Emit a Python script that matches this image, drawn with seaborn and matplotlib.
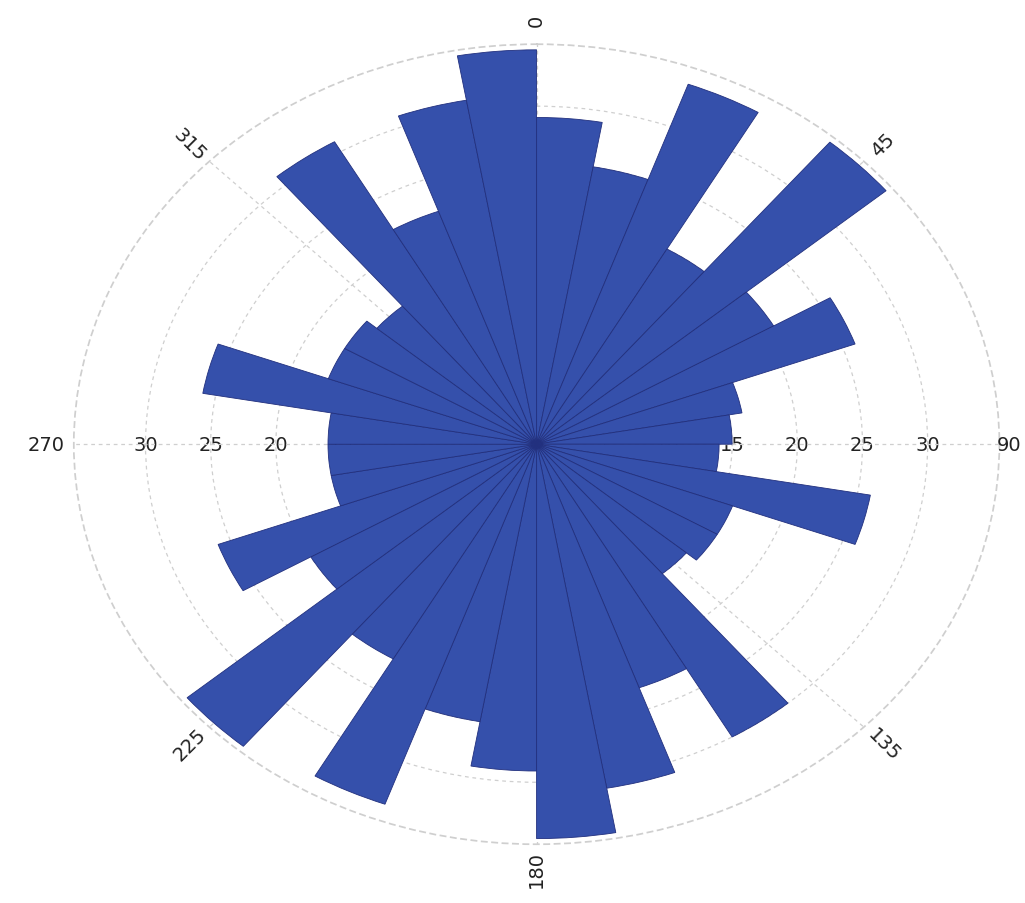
import numpy as np
import pandas as pd
import matplotlib
matplotlib.use("Agg")
import matplotlib.pyplot as plt
import seaborn as sns

sns.set_theme(style="white")

# rose diagram: 10 degree bins, counts
bin_start = list(range(0, 360, 10))
counts = [29, 25, 34, 20, 35, 21, 26, 16, 15, 14,
          26, 16, 16, 15, 30, 23, 31, 35, 29, 25,
          34, 22, 35, 20, 26, 16, 16, 16, 26, 17,
          17, 16, 31, 22, 31, 35]
r_ticks = [5, 10, 15, 20, 25, 30]
r_max = 35.5
theta_ticks = [0, 45, 90, 135, 180, 225, 270, 315]

df = pd.DataFrame({"theta": np.deg2rad(np.array(bin_start) + 5), "count": counts})

fig = plt.figure(figsize=(10.25, 9.04), dpi=100)
ax = fig.add_axes([0.072, 0.065, 0.903, 0.885], projection="polar")
ax.set_theta_zero_location("N")
ax.set_theta_direction(-1)

sns.barplot(data=df, x="theta", y="count", native_scale=True, width=1.0,
            color="#3550ab", saturation=1, edgecolor="#22307e", linewidth=0.6,
            errorbar=None, ax=ax)

ax.set_aspect("auto")
ax.set_xlim(0, 2 * np.pi)
ax.set_ylim(0, r_max)
ax.set_xlabel("")
ax.set_ylabel("")
ax.set_axisbelow(True)

ax.set_xticks(np.deg2rad(theta_ticks))
ax.set_xticklabels([])
ax.set_yticks(r_ticks)
ax.set_yticklabels([])
ax.grid(True, color="#cfcfcf", linestyle=(0, (3, 3)), linewidth=0.9)
ax.spines["polar"].set_edgecolor("#cfcfcf")
ax.spines["polar"].set_linestyle((0, (3, 3)))

# angle labels, turned along the radius
for t in theta_ticks:
    math_ang = (90 - t) % 360
    rot = math_ang if math_ang <= 90 else math_ang - 180
    if rot <= -90:
        rot += 180
    if rot > 90:
        rot -= 180
    pad = 1.02 if t == 90 else 1.06
    ax.text(np.deg2rad(t), r_max * pad, str(t), ha="center", va="center",
            rotation=rot, rotation_mode="anchor", fontsize=14, color="#222222",
            clip_on=False)

# radius labels on both sides
for side in (90, 270):
    for r in r_ticks:
        ax.text(np.deg2rad(side), r, str(r), ha="center", va="center",
                fontsize=14, color="#222222", zorder=0.5)

plt.savefig("out.png", dpi=100)
